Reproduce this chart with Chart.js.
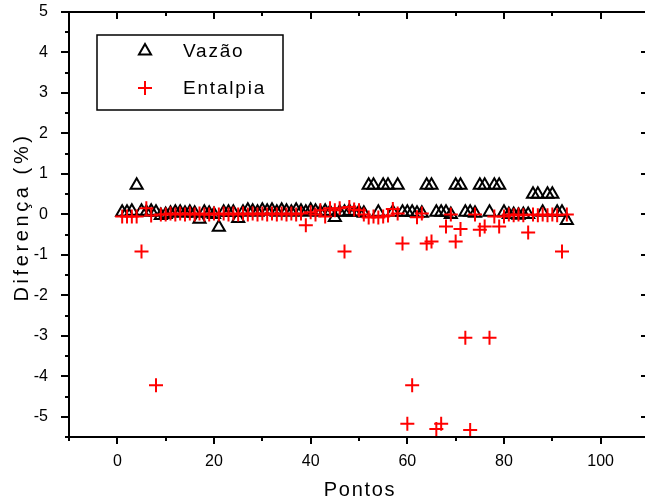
<!DOCTYPE html>
<html>
<head>
<meta charset="utf-8">
<script src="https://cdn.jsdelivr.net/npm/chart.js@4"></script>
<style>
  html, body { margin: 0; padding: 0; overflow: hidden; background: #fff; }
  #wrap { width: 660px; height: 503px; }
</style>
</head>
<body>
<div id="wrap"><canvas id="c" width="660" height="503"></canvas></div>
<script>
// ---- data ----
const pontos = Array.from({length: 93}, (_, i) => i + 1);
const vazao = [
  0.05, 0.05, 0.08, 0.72, 0.08, 0.05, 0.08, 0.05, -0.03, 0.00,
  0.03, 0.05, 0.05, 0.03, 0.05, 0.03, -0.12, 0.05, 0.03, 0.00,
  -0.32, 0.05, 0.05, 0.05, -0.10, 0.05, 0.10, 0.08, 0.05, 0.10,
  0.08, 0.10, 0.05, 0.10, 0.08, 0.05, 0.10, 0.08, 0.05, 0.10,
  0.08, 0.05, 0.08, 0.05, -0.08, 0.05, 0.05, 0.08, 0.05, 0.05,
  0.03, 0.72, 0.72, 0.05, 0.72, 0.72, 0.05, 0.72, 0.05, 0.05,
  0.05, 0.03, 0.03, 0.72, 0.72, 0.05, 0.05, 0.05, 0.00, 0.72,
  0.72, 0.05, 0.05, 0.03, 0.72, 0.72, 0.05, 0.72, 0.72, 0.05,
  0.00, 0.00, -0.02, 0.00, 0.00, 0.50, 0.50, 0.05, 0.50, 0.50,
  0.05, 0.05, -0.15
];
const entalpia = [
  -0.05, -0.05, -0.05, -0.05, -0.92, 0.15, -0.03, -4.22, 0.00, 0.00,
  0.02, 0.00, 0.02, 0.00, 0.02, 0.00, 0.02, 0.00, 0.00, 0.02,
  0.00, 0.02, 0.00, 0.02, 0.00, 0.02, 0.00, 0.02, 0.00, 0.02,
  0.00, 0.02, 0.00, 0.02, 0.00, 0.02, 0.00, 0.02, -0.27, 0.05,
  0.00, 0.10, -0.05, 0.15, 0.10, 0.15, -0.92, 0.18, 0.12, 0.10,
  0.00, -0.08, -0.05, -0.08, -0.05, -0.03, 0.13, 0.02, -0.72, -5.17,
  -4.22, -0.07, 0.02, -0.72, -0.67, -5.30, -5.17, -0.30, 0.00, -0.67,
  -0.36, -3.05, -5.33, 0.00, -0.38, -0.30, -3.05, -0.05, -0.30, -0.05,
  0.00, -0.02, 0.00, -0.02, -0.45, 0.00, -0.02, 0.00, -0.02, 0.00,
  -0.02, -0.92, 0.00
];
const seriesNames = ['Vazão', 'Entalpia'];
const xTickLabels = ['0', '20', '40', '60', '80', '100'];
const yTickLabels = ['-5', '-4', '-3', '-2', '-1', '0', '1', '2', '3', '4', '5'];
const xTitle = 'Pontos';
const yTitle = 'Diferença (%)';

const FONT = "'Liberation Sans', Arial, sans-serif";

const pts = (ys) => pontos.map((x, i) => ({x, y: ys[i]}));

const framePlugin = {
  id: 'frame',
  afterDraw(chart) {
    const {ctx, chartArea: a, scales} = chart;
    const xs = scales.x, ys = scales.y;
    ctx.save();
    ctx.strokeStyle = '#000';
    ctx.lineWidth = 2;
    ctx.strokeRect(a.left, a.top, a.right - a.left, a.bottom - a.top);
    ctx.beginPath();
    for (let v = -10; v <= 110; v += 10) {
      const px = Math.round(xs.getPixelForValue(v));
      const major = v % 20 === 0;
      const L = major ? 7 : 4;
      ctx.moveTo(px, a.bottom); ctx.lineTo(px, a.bottom + L);
      ctx.moveTo(px, a.top); ctx.lineTo(px, a.top + L);
    }
    for (let k = -11; k <= 10; k++) {
      const py = Math.round(ys.getPixelForValue(k / 2));
      const major = k % 2 === 0;
      const L = major ? 8 : 4;
      ctx.moveTo(a.left, py); ctx.lineTo(a.left - L, py);
      ctx.moveTo(a.right, py); ctx.lineTo(a.right - L, py);
    }
    ctx.stroke();

    // axis titles
    ctx.fillStyle = '#000';
    ctx.textAlign = 'center';
    ctx.textBaseline = 'middle';
    ctx.font = '20px ' + FONT;
    ctx.letterSpacing = '1.7px';
    ctx.fillText(xTitle, (a.left + a.right) / 2 + 1, 490);
    ctx.save();
    ctx.translate(22, 219);
    ctx.rotate(-Math.PI / 2);
    ctx.letterSpacing = '3.6px';
    ctx.fillText(yTitle, 2, 0);
    ctx.restore();

    // legend
    ctx.lineWidth = 1.5;
    ctx.strokeStyle = '#000';
    ctx.strokeRect(97, 35, 186, 75);
    const ds = chart.data.datasets;
    const rows = [[ds[1], 51], [ds[0], 88]];
    ctx.font = '19px ' + FONT;
    ctx.letterSpacing = '1.8px';
    ctx.textAlign = 'left';
    rows.forEach(([d, y]) => {
      ctx.save();
      ctx.strokeStyle = d.borderColor;
      ctx.fillStyle = 'rgba(0,0,0,0)';
      ctx.lineWidth = d.borderWidth;
      Chart.helpers.drawPoint(ctx, {pointStyle: d.pointStyle, radius: d.pointRadius, borderWidth: d.borderWidth, rotation: 0}, 145, y);
      ctx.restore();
      ctx.fillStyle = '#000';
      ctx.fillText(d.label, 183, y + 1);
    });
    ctx.restore();
  }
};

new Chart(document.getElementById('c'), {
  type: 'scatter',
  data: {
    datasets: [
      {label: seriesNames[1], data: pts(entalpia), pointStyle: 'cross', pointRadius: 7,
       borderColor: '#ff0000', backgroundColor: '#ff0000', borderWidth: 2, order: 0},
      {label: seriesNames[0], data: pts(vazao), pointStyle: 'triangle', pointRadius: 7,
       borderColor: '#000000', backgroundColor: 'rgba(0,0,0,0)', borderWidth: 2, order: 1}
    ]
  },
  options: {
    responsive: false,
    animation: false,
    layout: {padding: {left: 0, top: 12, right: 11, bottom: 0}},
    plugins: {legend: {display: false}, tooltip: {enabled: false}},
    elements: {point: {hoverRadius: 7}},
    scales: {
      x: {
        type: 'linear', min: -10, max: 110,
        grid: {display: true, drawOnChartArea: false, drawTicks: false, color: 'rgba(0,0,0,0)'},
        border: {display: false},
        afterFit(s) { s.height = 66; s.paddingLeft = 0; s.paddingRight = 0; },
        ticks: {
          stepSize: 10, autoSkip: false, maxRotation: 0, padding: 15,
          color: '#000', font: {family: FONT, size: 16},
          callback: (v) => xTickLabels.includes(String(v)) ? String(v) : ''
        }
      },
      y: {
        type: 'linear', min: -5.5, max: 5,
        grid: {display: true, drawOnChartArea: false, drawTicks: false, color: 'rgba(0,0,0,0)'},
        border: {display: false},
        afterFit(s) { s.width = 69; s.paddingTop = 0; s.paddingBottom = 0; },
        ticks: {
          stepSize: 0.5, autoSkip: false, padding: 21,
          color: '#000', font: {family: FONT, size: 16},
          callback: (v) => yTickLabels.includes(String(v)) ? String(v) : ''
        }
      }
    }
  },
  plugins: [framePlugin]
});
</script>
</body>
</html>
